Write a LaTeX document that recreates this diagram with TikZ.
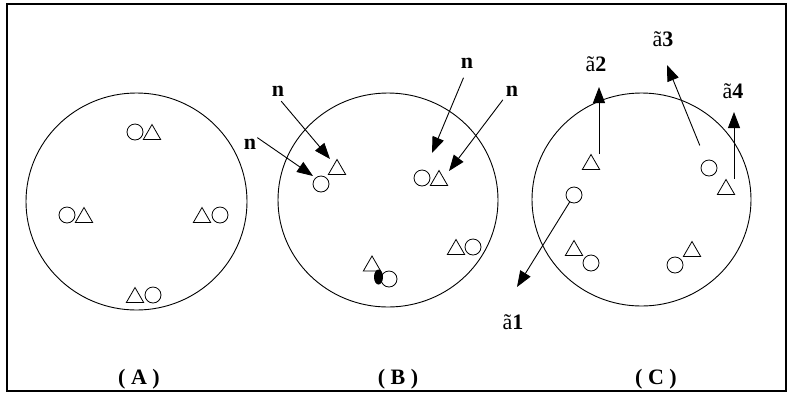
\documentclass[tikz,border=0pt]{standalone}
\usepackage{fontspec}
\setmainfont{Liberation Serif}
\usetikzlibrary{shapes.geometric,arrows.meta}

\tikzset{
  ring/.style={circle,draw,line width=0.8pt,minimum size=16pt,inner sep=0pt},
  tri/.style={regular polygon,regular polygon sides=3,draw,line width=0.8pt,minimum size=20pt,inner sep=0pt},
  lbl/.style={font=\fontsize{22}{24}\selectfont\bfseries,inner sep=1pt},
  tag/.style={font=\fontsize{22}{24}\selectfont,inner sep=1pt},
  arr/.style={-{Triangle[length=16pt,width=12pt]},line width=0.9pt},
}

\begin{document}
\begin{tikzpicture}[x=1pt,y=-1pt]
\useasboundingbox (0,0) rectangle (794,400);
\draw[line width=2pt] (7,4) rectangle (786,391);
% the three cells
\draw[line width=0.9pt] (136.5,201.5) ellipse (110.5 and 108.5);
\draw[line width=0.9pt] (388,200) ellipse (110 and 107);
\draw[line width=0.9pt] (641.5,199.5) ellipse (109.5 and 106.5);

% (A)
\node[ring] (aR1) at (135,132) {};
\node[tri]  (aT1) at (152,134.5) {};
\node[ring] (aR2) at (67,215) {};
\node[tri]  (aT2) at (84,217.5) {};
\node[tri]  (aT3) at (202,217.5) {};
\node[ring] (aR3) at (220,215) {};
\node[tri]  (aT4) at (135,297.5) {};
\node[ring] (aR4) at (153,295) {};

% (B)
\node[ring] (bR1) at (321,184) {};
\node[tri]  (bT1) at (337,169.5) {};
\node[ring] (bR2) at (422,178) {};
\node[tri]  (bT2) at (439,180.5) {};
\node[tri]  (bT3) at (456,249.5) {};
\node[ring] (bR3) at (473,247) {};
\node[tri]  (bT4) at (372,266) {};
\node[ring] (bR4) at (389,279) {};
\fill (378.5,277) ellipse (4.5 and 7.5);

\node[lbl] (n1) at (250,144) {n};
\node[lbl] (n2) at (278,91) {n};
\node[lbl] (n3) at (467,63) {n};
\node[lbl] (n4) at (512,91) {n};
\coordinate (e1) at (313,176);
\coordinate (e2) at (330,159);
\coordinate (e3) at (432,153);
\coordinate (e4) at (449,171);
\draw[arr] (n1.north east) -- (e1);
\draw[arr,shorten <=5pt] (n2.south) -- (e2);
\draw[arr,shorten <=9pt] (n3.south) -- (e3);
\draw[arr,shorten <=3pt] (n4.south west) -- (e4);

% (C)
\node[tri]  (cT1) at (591,164.5) {};
\node[ring] (cR1) at (574,195) {};
\node[ring] (cR2) at (709,168) {};
\node[tri]  (cT2) at (726,189.5) {};
\node[tri]  (cT3) at (574,250.5) {};
\node[ring] (cR3) at (591,263) {};
\node[ring] (cR4) at (675,265) {};
\node[tri]  (cT4) at (692,251.5) {};

\node[tag] (a1) at (513,322) {ã\textbf{1}};
\node[tag] (a2) at (596,64) {ã\textbf{2}};
\node[tag] (a3) at (663,39) {ã\textbf{3}};
\node[tag] (a4) at (733,91) {ã\textbf{4}};
\coordinate (t1) at (517,287);
\coordinate (t2) at (599,87);
\coordinate (t3) at (667,65);
\coordinate (t4) at (734,112);
\draw[arr] (cR1) -- (t1);
\draw[arr] ([xshift=8pt]cT1.corner 1) -- (t2);
\draw[arr,shorten <=16pt] (cR2) -- (t3);
\draw[arr] ([xshift=8pt]cT2.corner 1) -- (t4);

\node[lbl] (capA) at (139,379) {(~A~)};
\node[lbl] (capB) at (398,379) {(~B~)};
\node[lbl] (capC) at (656,379) {(~C~)};
\end{tikzpicture}
\end{document}
